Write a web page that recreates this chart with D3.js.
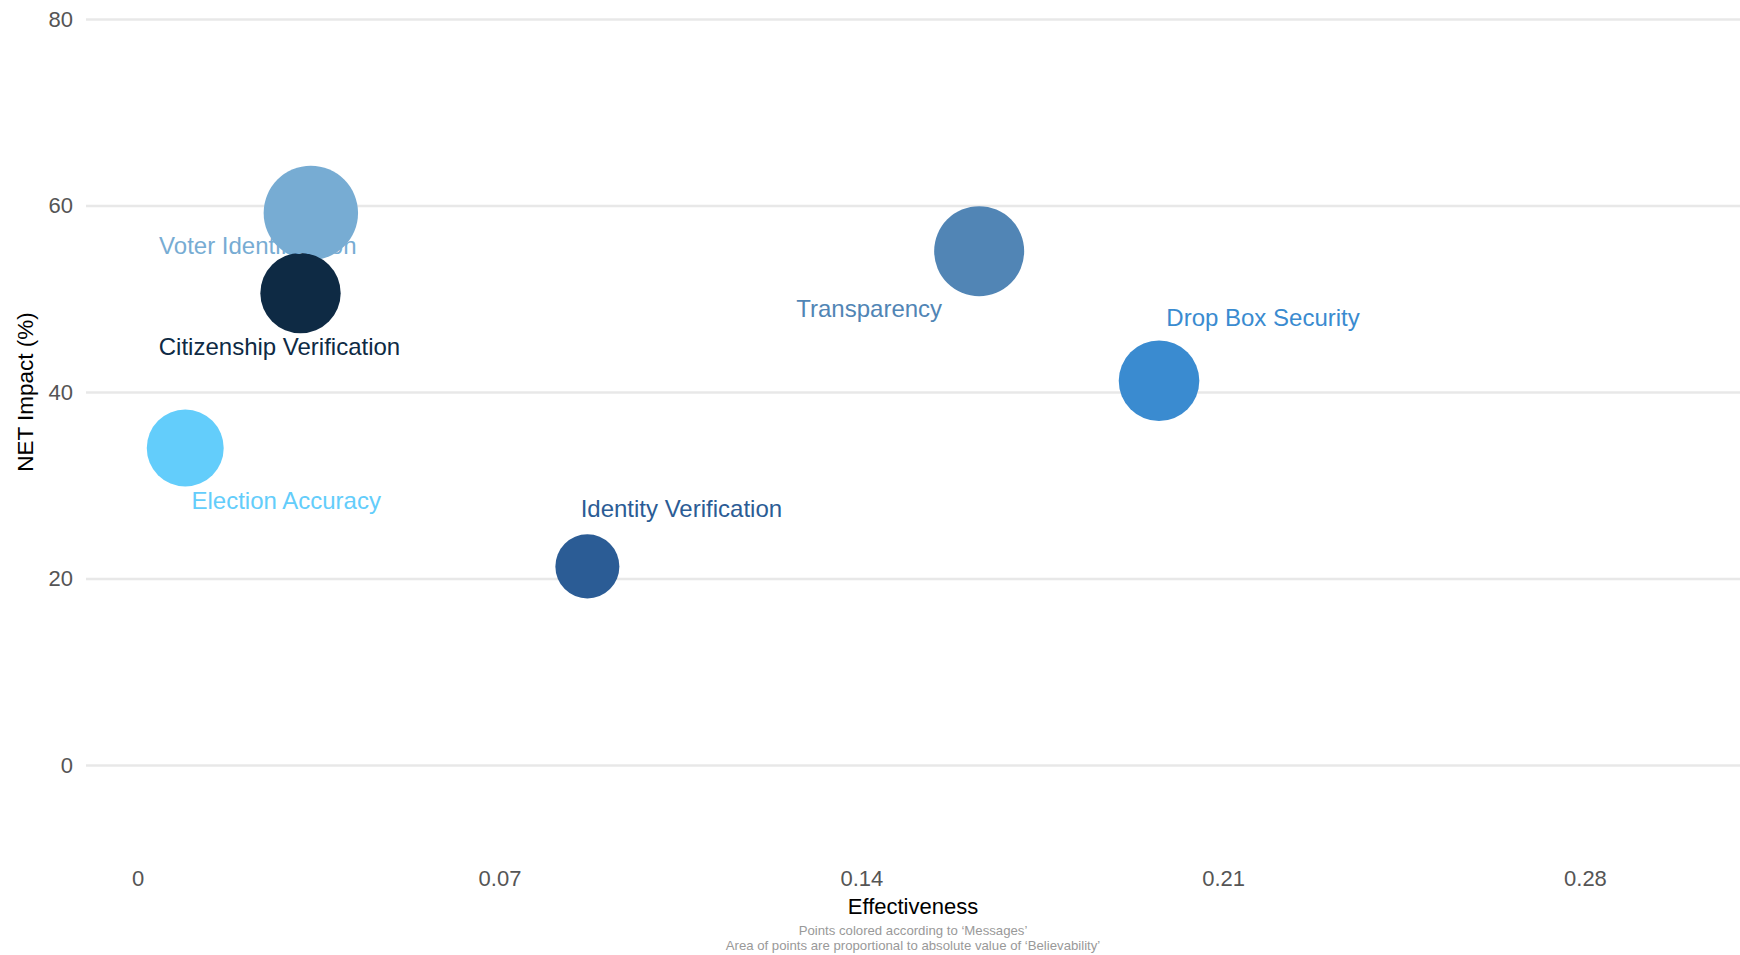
<!DOCTYPE html>
<html>
<head>
<meta charset="utf-8">
<script src="https://cdn.jsdelivr.net/npm/d3@7/dist/d3.min.js"></script>
<style>
  html, body { margin: 0; padding: 0; background: #ffffff; }
  svg { display: block; font-family: Arial, "Liberation Sans", sans-serif; }
</style>
</head>
<body>
<svg id="chart" width="1740" height="955"></svg>
<script>
// ---- data ----
const messages = ["Voter Identification", "Citizenship Verification", "Transparency", "Drop Box Security", "Election Accuracy", "Identity Verification"];
const effectiveness = [0.0335, 0.0315, 0.1628, 0.1976, 0.0092, 0.0870];
const netImpact = [59.2, 50.6, 55.1, 41.2, 34.0, 21.3];
const believability = [45.0, 32.6, 40.9, 32.8, 29.9, 20.7];
const xTicks = [0, 0.07, 0.14, 0.21, 0.28];
const xTickLabels = ["0", "0.07", "0.14", "0.21", "0.28"];
const yTicks = [0, 20, 40, 60, 80];
const yTickLabels = ["0", "20", "40", "60", "80"];

// ---- styles / layout ----
const palette = ["#77acd3", "#0e2a44", "#5185b5", "#3a8bd0", "#63cdfb", "#2b5c95"];
// label offsets from bubble centre (px): [dx, dy of baseline]
const labelOffsets = [[-53, 41], [-21, 62], [-110, 66], [104, -55], [101, 61], [94, -49]];

const W = 1740, H = 955;
const plotL = 86, plotR = 1740, plotT = 19, plotB = 765;

const svg = d3.select("#chart");
svg.append("rect").attr("width", W).attr("height", H).attr("fill", "#ffffff");

const x = d3.scaleLinear().domain([-0.01, 0.31]).range([plotL, plotR]);
const y = d3.scaleLinear().domain([0, 80]).range([plotB, plotT]);
const r = d3.scaleSqrt().domain([0, 45]).range([0, 47.2]);

// y axis with gridlines
const yAxis = svg.append("g")
  .attr("transform", `translate(${plotL},0)`)
  .call(d3.axisLeft(y).tickValues(yTicks)
    .tickFormat((d, i) => yTickLabels[i])
    .tickSize(-(plotR - plotL)).tickPadding(13));
yAxis.select(".domain").remove();
yAxis.selectAll(".tick line").attr("stroke", "#e8e8e8").attr("stroke-width", 2.5);
yAxis.selectAll(".tick text").attr("fill", "#555555").style("font-size", "22px")
  .style("font-family", "Arial, 'Liberation Sans', sans-serif");

// x axis
const xAxis = svg.append("g")
  .attr("transform", `translate(0,870)`)
  .call(d3.axisBottom(x).tickValues(xTicks)
    .tickFormat((d, i) => xTickLabels[i])
    .tickSize(0).tickPadding(0));
xAxis.select(".domain").remove();
xAxis.selectAll(".tick text").attr("fill", "#555555").style("font-size", "22px")
  .style("font-family", "Arial, 'Liberation Sans', sans-serif");

const rows = messages.map((m, i) => ({
  m, ex: effectiveness[i], ny: netImpact[i], b: believability[i], c: palette[i], off: labelOffsets[i]
}));

// bubbles
svg.append("g").selectAll("circle").data(rows).join("circle")
  .attr("cx", d => x(d.ex))
  .attr("cy", d => y(d.ny))
  .attr("r", d => r(Math.abs(d.b)))
  .attr("fill", d => d.c);

// labels
svg.append("g").selectAll("text").data(rows).join("text")
  .attr("x", d => x(d.ex) + d.off[0])
  .attr("y", d => y(d.ny) + d.off[1])
  .attr("text-anchor", "middle")
  .attr("fill", d => d.c)
  .style("font-size", "24px")
  .text(d => d.m);

// axis titles
svg.append("text")
  .attr("x", (plotL + plotR) / 2).attr("y", 914)
  .attr("text-anchor", "middle").attr("fill", "#000000")
  .style("font-size", "22px").text("Effectiveness");

svg.append("text")
  .attr("transform", `translate(33,${(plotT + plotB) / 2}) rotate(-90)`)
  .attr("text-anchor", "middle").attr("fill", "#000000")
  .style("font-size", "22.5px").text("NET Impact (%)");

// footnotes
const notes = ["Points colored according to \u2018Messages\u2019", "Area of points are proportional to absolute value of \u2018Believability\u2019"];
svg.append("g").selectAll("text").data(notes).join("text")
  .attr("x", (plotL + plotR) / 2)
  .attr("y", (d, i) => 935 + i * 14.5)
  .attr("text-anchor", "middle").attr("fill", "#999999")
  .style("font-size", "13.2px")
  .text(d => d);
</script>
</body>
</html>
